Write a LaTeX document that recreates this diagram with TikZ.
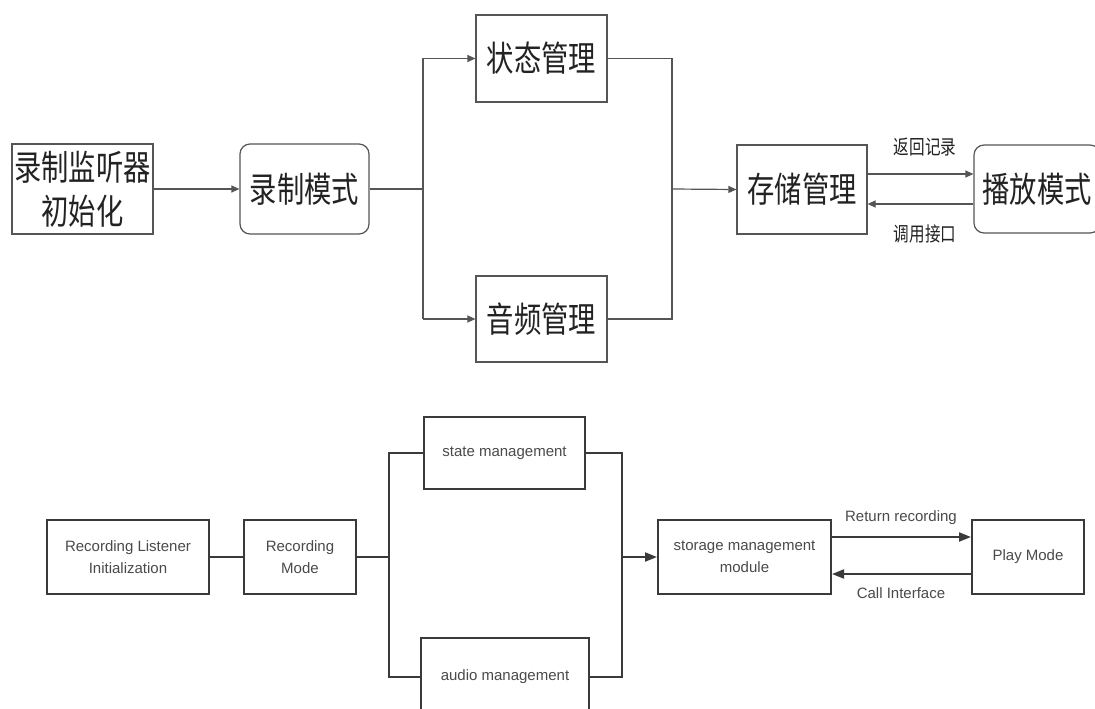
\documentclass[tikz,border=0pt]{standalone}
\usepackage{fontspec}
\setmainfont{Liberation Sans}
\newfontfamily\cjk[FakeStretch=0.78]{Noto Sans CJK SC}
\usetikzlibrary{arrows.meta}
\definecolor{topline}{HTML}{555555}
\definecolor{toptext}{HTML}{222222}
\definecolor{botline}{HTML}{3A3A3A}
\definecolor{bottext}{HTML}{4A4A4A}
\tikzset{
  tbox/.style={draw=topline, line width=1.2pt, inner sep=0pt, align=center, text=toptext,
    font=\cjk\fontsize{35}{44}\selectfont},
  tround/.style={tbox, rounded corners=10pt},
  tline/.style={draw=topline, line width=1.2pt},
  tarrow/.style={tline, -{Triangle[length=8pt,width=7pt]}},
  tlabel/.style={inner sep=0pt, text=toptext, font=\cjk\fontsize{20}{24}\selectfont},
  bbox/.style={draw=botline, line width=2pt, inner sep=0pt, align=center, text=bottext,
    font=\fontsize{15}{22}\selectfont},
  bline/.style={draw=botline, line width=2pt},
  barrow/.style={bline, -{Triangle[length=12pt,width=9pt]}},
  blabel/.style={inner sep=0pt, text=bottext, font=\fontsize{15}{18}\selectfont},
}
\begin{document}
\begin{tikzpicture}[x=1pt,y=-1pt]
\useasboundingbox (0,0) rectangle (1095,709);
\fill[white] (0,0) rectangle (1095,709);

% ---------- top diagram ----------
\node[tbox, minimum width=141pt, minimum height=90pt] (tA) at (82.5,189) {录制监听器\\初始化};
\node[tround, minimum width=129pt, minimum height=90pt] (tB) at (304.5,189) {录制模式};
\node[tbox, minimum width=131pt, minimum height=87pt] (tS) at (541.5,58.5) {状态管理};
\node[tbox, minimum width=131pt, minimum height=86pt] (tU) at (541.5,319) {音频管理};
\node[tbox, minimum width=130pt, minimum height=89pt] (tM) at (802,189.5) {存储管理};
\node[tround, minimum width=126pt, minimum height=88pt] (tP) at (1037,189) {播放模式};

\coordinate (ts) at (423,189);
\coordinate (tm) at (672,189);
\coordinate (tr1) at (0,174);
\coordinate (tr2) at (0,204);

\draw[tarrow] (tA.east) -- (tB.west);
\draw[tline] (tB.east) -- (ts);
\draw[tline] (ts |- tS.west) -- (ts |- tU.west);
\draw[tarrow] (ts |- tS.west) -- (tS.west);
\draw[tarrow] (ts |- tU.west) -- (tU.west);
\draw[tline] (tS.east) -- (tm |- tS.east) -- (tm |- tU.east) -- (tU.east);
\draw[tarrow] (tm) -- (tM.west);
\draw[tarrow] (tM.east |- tr1) -- (tP.west |- tr1);
\draw[tarrow] (tP.west |- tr2) -- (tM.east |- tr2);
\node[tlabel] (tl1) at (925,147) {返回记录};
\node[tlabel] (tl2) at (925,234) {调用接口};

% ---------- bottom diagram ----------
\node[bbox, minimum width=162pt, minimum height=74pt] (bA) at (128,557) {Recording Listener\\Initialization};
\node[bbox, minimum width=112pt, minimum height=74pt] (bB) at (300,557) {Recording\\Mode};
\node[bbox, minimum width=161pt, minimum height=72pt] (bS) at (504.5,453) {state management};
\node[bbox, minimum width=168pt, minimum height=78pt] (bU) at (505,677) {audio management};
\node[bbox, minimum width=173pt, minimum height=74pt] (bM) at (744.5,557) {storage management\\module};
\node[bbox, minimum width=112pt, minimum height=74pt] (bP) at (1028,557) {Play Mode};

\coordinate (bs) at (389,557);
\coordinate (bm) at (622,557);
\coordinate (br1) at (0,537);
\coordinate (br2) at (0,574);

\draw[bline] (bA.east) -- (bB.west);
\draw[bline] (bB.east) -- (bs);
\draw[bline] (bS.west) -- (bs |- bS.west) -- (bs |- bU.west) -- (bU.west);
\draw[bline] (bS.east) -- (bm |- bS.east) -- (bm |- bU.east) -- (bU.east);
\draw[barrow] (bm) -- (bM.west);
\draw[barrow] (bM.east |- br1) -- (bP.west |- br1);
\draw[barrow] (bP.west |- br2) -- (bM.east |- br2);
\node[blabel] (bl1) at (901,518) {Return recording};
\node[blabel] (bl2) at (901,593) {Call Interface};
\end{tikzpicture}
\end{document}
